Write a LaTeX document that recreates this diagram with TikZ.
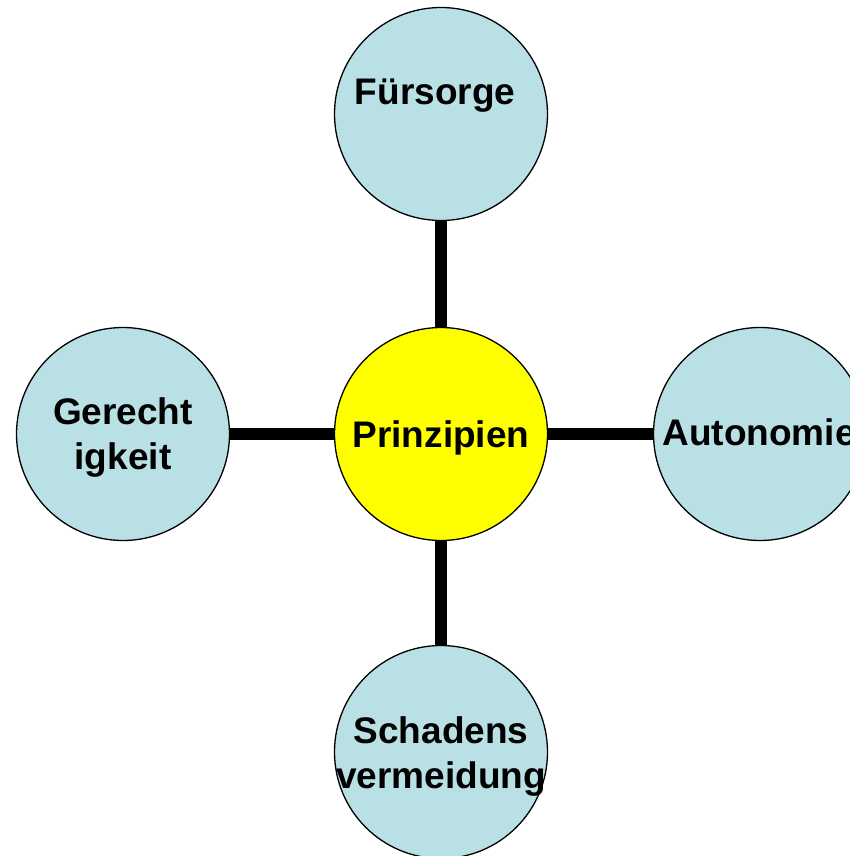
\documentclass[tikz,border=0pt]{standalone}
\usepackage{fontspec}
\setmainfont{Liberation Sans}
\usetikzlibrary{backgrounds}
\definecolor{lblue}{RGB}{185,224,228}
\definecolor{pyellow}{RGB}{255,255,0}
\begin{document}
\begin{tikzpicture}[x=1pt,y=-1pt,
  bubble/.style={circle,draw=black,line width=1.3pt,minimum size=213pt,inner sep=0pt},
  outer/.style={bubble,fill=lblue},
  core/.style={bubble,fill=pyellow},
  txt/.style={inner sep=0pt,align=center,font=\fontsize{37}{45}\selectfont\bfseries},
  link/.style={line width=12pt,black}]
\useasboundingbox (0,0) rectangle (850,856);
\node[core] (c) at (441,434) {};
\node[outer] (t) at (441,114) {};
\node[outer] (l) at (123,434) {};
\node[outer] (r) at (760,434) {};
\node[outer] (b) at (441,752) {};
\begin{scope}[on background layer]
\draw[link] (c.north) -- (t.south);
\draw[link] (c.south) -- (b.north);
\draw[link] (c.west) -- (l.east);
\draw[link] (c.east) -- (r.west);
\end{scope}
\node[txt,anchor=base] (ct) at (441,447) {Prinzipien};
\node[txt,anchor=base] (tt) at (435,105) {Fürsorge};
\node[txt,anchor=base] (rt) at (759,445) {Autonomie};
\node[txt] (lt) at (123,438) {Gerecht\\igkeit};
\node[txt] (bt) at (441,757) {Schadens\\vermeidung};
\end{tikzpicture}
\end{document}
